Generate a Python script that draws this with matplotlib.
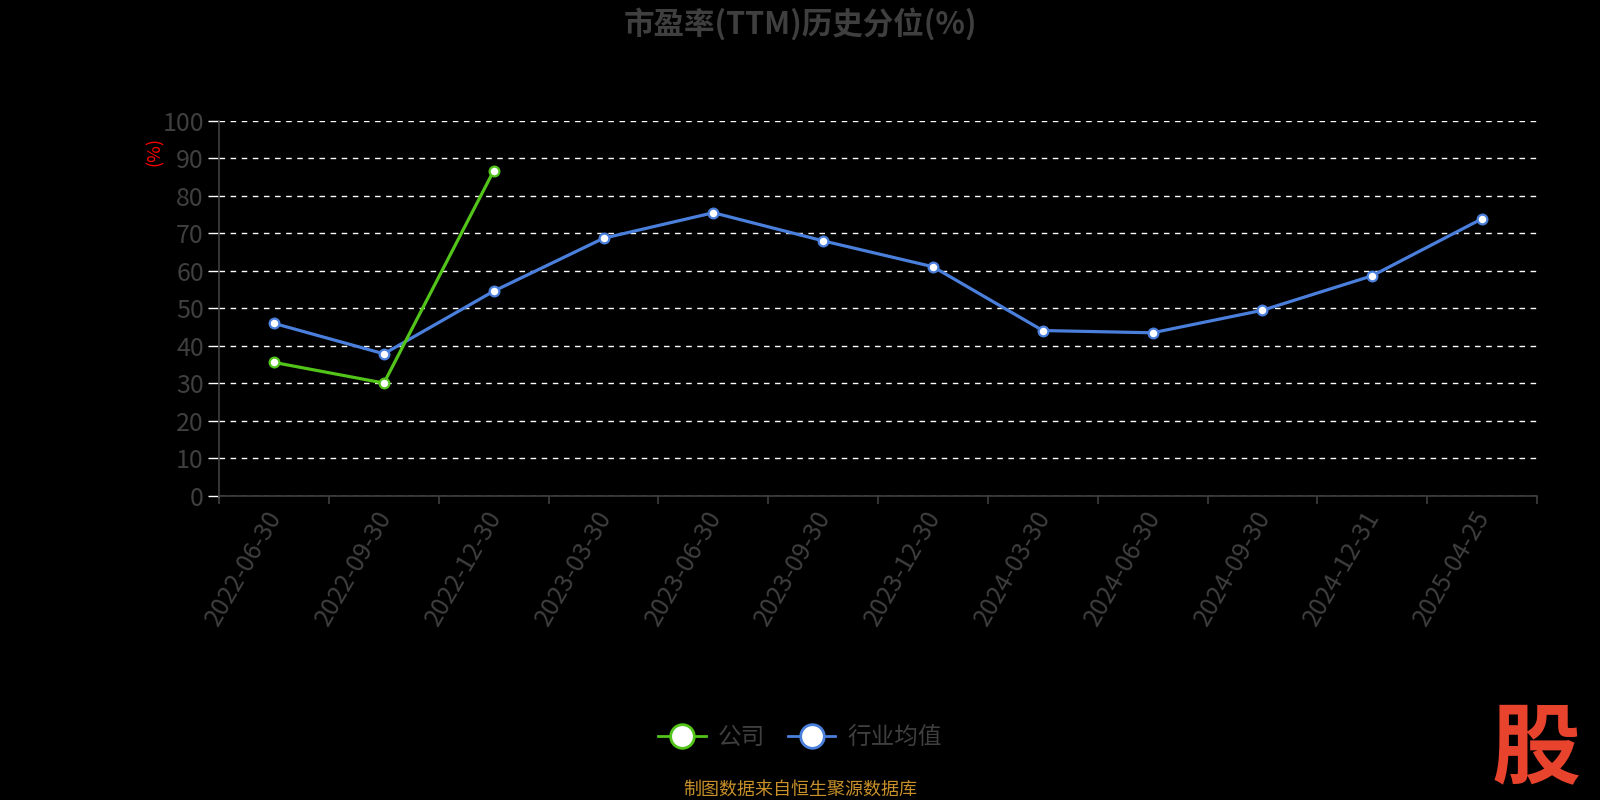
import numpy as np
import matplotlib
matplotlib.use("Agg")
import matplotlib.pyplot as plt
import matplotlib.transforms as mtransforms
from matplotlib.lines import Line2D

plt.rcParams['font.family'] = ['Noto Sans CJK SC', 'DejaVu Sans']

# data
dates = ["2022-06-30", "2022-09-30", "2022-12-30", "2023-03-30", "2023-06-30",
         "2023-09-30", "2023-12-30", "2024-03-30", "2024-06-30", "2024-09-30",
         "2024-12-31", "2025-04-25"]
company = [35.6, 30.1, 86.7]
industry = [46.0, 37.9, 54.6, 68.7, 75.5, 68.0, 61.1, 44.1, 43.5, 49.5, 58.7, 73.9]
yticks = list(range(0, 101, 10))

GREEN = "#52c41a"
BLUE = "#4a7fdc"
GRAY = "#3f3f3f"

fig = plt.figure(figsize=(16, 8), dpi=100, facecolor="black")
ax = fig.add_axes([0.137, 0.38, 0.8236, 0.469])
ax.set_facecolor("black")

x = np.arange(len(dates))
ax.plot(x, industry, color=BLUE, lw=2.3, marker="o", ms=7, mfc="white",
        mec=BLUE, mew=1.6, zorder=3)
ax.plot(x[:len(company)], company, color=GREEN, lw=2.3, marker="o", ms=7,
        mfc="white", mec=GREEN, mew=1.6, zorder=4)

ax.set_xlim(-0.5, len(dates) - 0.5)
ax.set_ylim(0, 100)
ax.set_yticks(yticks)
ax.set_yticklabels([str(v) for v in yticks], fontsize=18, color=GRAY)
ax.yaxis.grid(True, color="white", ls=(0, (4, 4)), lw=1.0)
ax.set_axisbelow(True)

ax.set_xticks(np.arange(-0.5, len(dates), 1), minor=True)
ax.tick_params(axis="x", which="major", length=0, pad=7)
ax.tick_params(axis="x", which="minor", length=6, color=GRAY, width=1.2)
ax.tick_params(axis="y", length=8, color="white", width=1.0, pad=3)
ax.set_xticks(x)
ax.set_xticklabels(dates, rotation=60, ha="right", va="top",
                   rotation_mode="anchor", fontsize=18, color=GRAY)
# nudge rotated labels so their top end sits under the category centre
shift = mtransforms.ScaledTranslation(-9 / 100, 0, fig.dpi_scale_trans)
for lab in ax.get_xticklabels():
    lab.set_transform(lab.get_transform() + shift)

for side in ["top", "right"]:
    ax.spines[side].set_visible(False)
ax.spines["left"].set_color(GRAY)
ax.spines["bottom"].set_color(GRAY)
ax.spines["left"].set_linewidth(1.2)
ax.spines["bottom"].set_linewidth(1.2)

fig.text(0.097, 0.81, "(%)", color="red", fontsize=13, rotation=90,
         ha="center", va="center")

fig.text(0.5, 0.97, "市盈率(TTM)历史分位(%)", color=GRAY, fontsize=22,
         fontweight="bold", ha="center", va="center")

handles = [
    Line2D([0], [0], color=GREEN, lw=2, marker="o", ms=17, mfc="white", mec=GREEN, mew=2),
    Line2D([0], [0], color=BLUE, lw=2, marker="o", ms=17, mfc="white", mec=BLUE, mew=2),
]
fig.legend(handles, ["公司", "行业均值"], loc="center", bbox_to_anchor=(0.5, 0.078),
           ncol=2, frameon=False, fontsize=17, labelcolor=GRAY,
           handlelength=2.0, columnspacing=1.0, handletextpad=0.5)

fig.text(0.5, 0.013, "制图数据来自恒生聚源数据库", color="#c8902a", fontsize=13,
         ha="center", va="center")

fig.text(0.96, 0.062, "股", color="#e8432c", fontsize=64, fontweight="heavy",
         ha="center", va="center")

fig.savefig("out.png", dpi=100, facecolor="black")
